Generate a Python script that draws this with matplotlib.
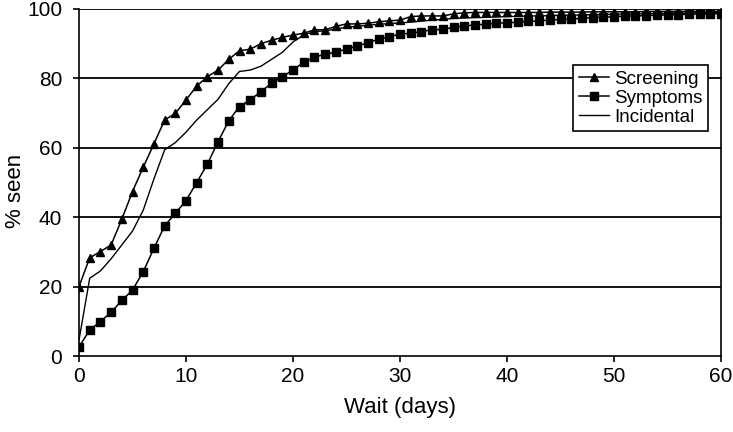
import matplotlib
matplotlib.use("Agg")
import matplotlib.pyplot as plt
import numpy as np

plt.rcParams['font.family'] = ['Liberation Sans', 'DejaVu Sans']

days = list(range(0, 61))

screening = [20, 28.3, 30.1, 32, 39.4, 47.4, 54.4, 61.1, 68, 69.9,
             73.8, 77.8, 80.5, 82.4, 85.5, 88, 88.4, 90, 91, 91.8,
             92.5, 93, 94, 94, 95, 95.7, 95.7, 95.9, 96.3, 96.6,
             96.8, 97.8, 98, 98, 98, 98.6, 98.9, 99, 99, 99,
             99, 99, 99, 99, 99.1, 99.1, 99.1, 99.1, 99.2, 99.2,
             99.2, 99.2, 99.2, 99.3, 99.3, 99.3, 99.3, 99.3, 99.3, 99.3, 99.3]

symptoms = [2.6, 7.5, 9.9, 12.6, 16, 19, 24.3, 31, 37.5, 41.1,
            44.8, 50, 55.3, 61.8, 67.8, 71.9, 73.8, 76.2, 78.6, 80.4,
            82.5, 84.6, 86.1, 87, 87.5, 88.5, 89.3, 90.3, 91.3, 92,
            92.8, 93, 93.5, 94, 94.1, 94.7, 95.1, 95.4, 95.6, 95.9,
            96, 96.2, 96.4, 96.6, 96.8, 97, 97.1, 97.3, 97.5, 97.6,
            97.8, 97.9, 98, 98.1, 98.2, 98.3, 98.4, 98.5, 98.6, 98.6, 98.7]

incidental = [4.6, 22.4, 24.5, 28, 32, 36, 42, 51, 59.4, 61.5,
              64.5, 68, 71, 74, 78.5, 82, 82.4, 83.5, 85.5, 87.5,
              90.5, 92.5, 93.5, 93.7, 94.2, 94.8, 95, 95.3, 95.6, 95.8,
              96, 96.2, 96.5, 96.8, 97, 97.3, 97.4, 97.5, 97.6, 97.7,
              97.8, 97.9, 98, 98, 98.1, 98.2, 98.2, 98.3, 98.4, 98.4,
              98.5, 98.5, 98.6, 98.6, 98.7, 98.7, 98.8, 98.8, 98.9, 98.9, 99]

x_ticks = [0, 10, 20, 30, 40, 50, 60]
y_ticks = [0, 20, 40, 60, 80, 100]

fig = plt.figure(figsize=(7.33, 4.32), dpi=100)
ax = fig.add_axes([79/733, 1-356/432, 642/733, 347/432])

for yv in y_ticks[1:]:
    ax.axhline(yv, color='black', lw=1.3, zorder=1)

ax.plot(days, screening, color='black', lw=1.1, marker='^', markersize=6, label='Screening', zorder=3)
ax.plot(days, symptoms, color='black', lw=1.1, marker='s', markersize=5.5, label='Symptoms', zorder=3)
ax.plot(days, incidental, color='black', lw=1.0, label='Incidental', zorder=2)

ax.set_xlim(0, 60)
ax.set_ylim(0, 100)
ax.set_xticks(x_ticks)
ax.set_yticks(y_ticks)
ax.tick_params(axis='both', direction='out', length=4, width=1.2, labelsize=15, colors='black')
ax.tick_params(axis='y', pad=8)
ax.tick_params(axis='x', pad=4)
for side in ['left', 'bottom', 'right']:
    ax.spines[side].set_linewidth(1.2)
    ax.spines[side].set_color('black')
ax.spines['top'].set_visible(False)

ax.set_xlabel('Wait (days)', fontsize=16, labelpad=8)
ax.set_ylabel('% seen', fontsize=16)
ax.yaxis.set_label_coords(-0.082, 0.477)

leg = ax.legend(loc='upper right', bbox_to_anchor=(0.98, 0.8386), fontsize=13.5,
                frameon=True, fancybox=False, edgecolor='black', framealpha=1,
                handlelength=1.6, handletextpad=0.3, labelspacing=0.1,
                borderpad=0.3, borderaxespad=0)
leg.get_frame().set_linewidth(1.2)

fig.savefig('out.png', dpi=100)
